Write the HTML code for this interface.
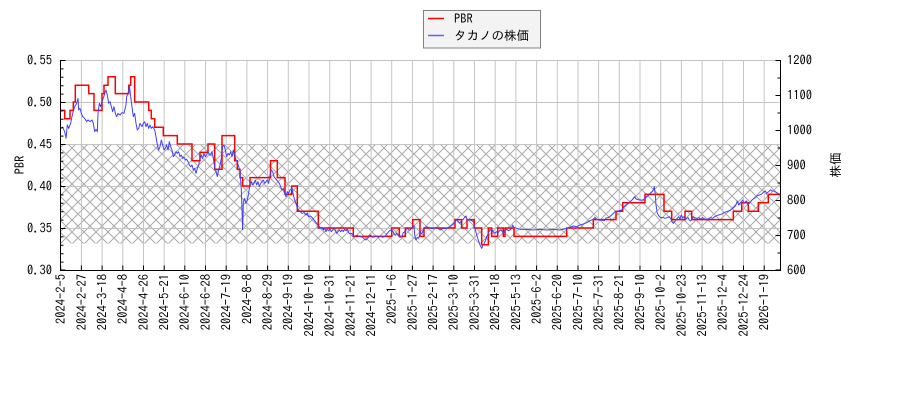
<!DOCTYPE html>
<html>
<head>
<meta charset="utf-8">
<style>
html,body{margin:0;padding:0;background:#fff;}
svg{display:block;}
text{font-family:"IPAGothic","DejaVu Sans","Noto Sans CJK JP",sans-serif;font-size:12.5px;fill:#000;}
</style>
</head>
<body>
<svg width="900" height="400" viewBox="0 0 900 400" xmlns="http://www.w3.org/2000/svg">
<defs>
<pattern id="hx" width="12" height="12" patternUnits="userSpaceOnUse" x="0" y="4">
<path d="M0,0 L12,12 M0,12 L12,0" stroke="#a8a8a8" stroke-width="1" fill="none"/>
</pattern>
</defs>
<rect x="0" y="0" width="900" height="400" fill="#fff"/>

<!-- hatch band -->
<rect x="60.5" y="144" width="720" height="99.5" fill="url(#hx)"/>

<!-- grid -->
<g stroke="#c4c4c4" stroke-width="1" fill="none">
<path d="M60.5,60.5H780.5 M60.5,102.5H780.5 M60.5,144.5H780.5 M60.5,186.5H780.5 M60.5,228.5H780.5"/>
<path d="M81.4,60V270 M102.1,60V270 M122.8,60V270 M143.5,60V270 M164.2,60V270 M184.8,60V270 M205.5,60V270 M226.2,60V270 M246.9,60V270 M267.6,60V270 M288.3,60V270 M309,60V270 M329.7,60V270 M350.4,60V270 M371.1,60V270 M391.7,60V270 M412.4,60V270 M433.1,60V270 M453.8,60V270 M474.5,60V270 M495.2,60V270 M515.9,60V270 M536.6,60V270 M557.3,60V270 M578,60V270 M598.6,60V270 M619.3,60V270 M640,60V270 M660.7,60V270 M681.4,60V270 M702.1,60V270 M722.8,60V270 M743.5,60V270 M764.2,60V270"/>
</g>

<!-- PBR red step line -->
<path fill="none" stroke="#ff0000" stroke-width="1.5" d="M60.7,110.4 H64.7 V118.8 H70 V110.4 H73.3 V102 H75.3 V85.2 H88.7 V93.6 H94 V110.4 H102 V93.6 H104 V85.2 H108 V76.8 H115.3 V93.6 H128.7 V85.2 H130.7 V76.8 H134.7 V102 H148.7 V110.4 H151.3 V118.8 H154.7 V127.2 H163.3 V135.6 H177.3 V144 H192 V160.8 H200 V152.4 H208 V144 H214.7 V169.2 H222 V135.6 H234.7 V160.8 H237.3 V169.2 H240 V177.6 H242.7 V186 H250 V177.6 H270.5 V160.8 H277.3 V177.6 H285 V194.4 H291.7 V186 H297.3 V211.2 H318.3 V228 H353.3 V236.4 H391.7 V228 H399.3 V236.4 H405.3 V228 H412.7 V219.6 H420 V236.4 H424 V228 H455 V219.6 H461.7 V228 H467 V219.6 H474.3 V228 H481.7 V244.8 H488.3 V228 H491.7 V236.4 H497.7 V228 H503.3 V236.4 H505 V228 H514 V236.4 H566.7 V228 H593.3 V219.6 H616 V211.2 H622.7 V202.8 H645 V194.4 H664 V211.2 H671.7 V219.6 H685 V211.2 H691.7 V219.6 H733.3 V211.2 H741.7 V202.8 H748.3 V211.2 H758.3 V202.8 H768.3 V194.4 H780"/>

<!-- Stock price blue line -->
<g fill="none" stroke="#4040ff" stroke-width="1" stroke-linejoin="round">
<g transform="translate(58,70) scale(0.33333)">
<polyline vector-effect="non-scaling-stroke" points="8,175 14,172 20,185 24,205 28,165 32,175 38,160 44,130 50,110 56,100 60,85 62,120 66,115 70,130 74,140 80,145 86,155 90,150 96,155 102,150 106,160 110,185 114,178 118,185 120,130 124,100 128,110 132,95 138,78 144,60 148,75 152,100 156,95 160,110 164,125 168,110 172,130 176,140 180,130 186,135 192,128 198,130 204,105 206,80 210,70 212,60 214,45 218,80 222,110 226,140 230,130 234,160 238,180 242,175 246,160 252,170 256,160 260,155 264,170 268,160 272,175 276,165 280,175 284,170 290,180 294,200 298,225 302,240 306,230 310,210 314,225 318,240 322,235 326,225 330,240 334,215 338,230 342,240 346,260 350,255 354,245 358,250 362,245 366,260 370,255 374,265 378,262 382,270 386,268 390,275 394,285 398,290 402,285 406,300 410,295 414,310 418,295 422,285 426,265 430,255 434,265 438,250 442,260 446,255 450,245 454,255 458,255 462,245 466,265 470,290 474,305 478,320 482,300 486,285 490,265 494,230 498,225 502,240 506,260 510,250 514,255 518,245 522,260 526,240 530,255 534,270 538,275 542,290 546,300 550,360 552,420 554,480"/>
</g>
<g transform="translate(240,150) scale(0.33333)">
<polyline vector-effect="non-scaling-stroke" points="8,240 10,155 14,145 18,160 22,150 26,130 30,100 34,95 38,105 42,100 46,90 50,105 54,95 58,110 62,100 66,95 70,90 74,100 78,95 82,90 86,100 90,75 94,60 98,65 102,80 106,85 110,90 114,95 118,100 122,110 126,120 130,115 134,130 138,140 142,125 146,130 150,120 156,115 160,135 164,150 168,160 172,175 176,180 180,185 186,190 192,188 198,195 202,190 206,200 210,198 214,200 218,205 222,210 226,215 230,220 234,225 238,230 242,235 246,232 250,240 254,235 258,245 262,238 266,242 270,236 274,245 278,240 282,235 286,240 290,250 294,245 298,240 302,245 306,240 310,245 314,238 318,242 322,236 326,248 330,252 334,250 338,255 342,258 346,258 350,256 356,258 362,260 368,262 374,268 378,270 382,265 386,262 390,255 394,258 398,262 404,260 410,258 416,262 422,258 428,262 434,260 440,252 446,245 452,240 458,242 462,252 466,256 470,250 474,256 480,262 486,258 490,248 494,245 498,238 502,235 506,240 510,240 514,236 518,230 522,228 524,255 528,270 532,262 536,265 540,250"/>
</g>
<g transform="translate(420,180) scale(0.33333)">
<polyline vector-effect="non-scaling-stroke" points="0,155 5,162 10,150 15,145 20,140 25,142 30,145 40,145 50,142 60,150 70,145 80,145 90,140 100,132 105,125 110,118 115,125 120,130 125,120 130,118 135,110 138,108 142,122 146,118 150,120 155,122 160,125 165,145 170,165 175,180 180,195 185,205 190,195 195,185 200,170 205,160 210,150 215,148 220,155 225,160 230,155 235,158 240,150 245,152 250,160 255,150 260,148 265,152 270,150 275,145 278,135 282,142 290,145 300,148 320,148 340,150 360,148 380,150 400,148 420,150 440,145 450,142 460,138 470,140 480,135 490,132 500,128 510,122 520,118 525,112 530,118 540,120 555,122"/>
</g>
<g transform="translate(600,175) scale(0.33333)">
<polyline vector-effect="non-scaling-stroke" points="15,130 25,128 35,120 45,110 55,108 65,105 72,95 80,88 88,82 96,75 104,65 108,72 118,75 130,75 135,68 140,65 145,62 150,55 156,50 160,45 163,35 166,60 168,90 172,115 176,122 182,128 190,128 196,130 202,128 208,125 212,130 216,140 220,145 224,140 228,135 232,130 236,125 240,132 244,120 248,128 252,125 256,135 260,130 264,128 268,135 272,138 276,132 280,125 284,128 290,130 296,128 302,132 308,128 314,132 320,135 326,130 332,128 338,130 344,125 350,122 356,120 362,118 368,116 374,112 380,110 386,108 392,105 398,100 404,95 408,90 412,78 416,90 420,85 424,80 428,75 432,85 436,80 440,78 444,90 448,85 452,80 456,75 460,72 466,68 472,62 478,60 484,58 490,52 496,48 500,55 506,50 512,44 516,48 522,48 528,52 534,55 540,58"/>
</g>
</g>

<!-- spines -->
<g stroke="#000" stroke-width="1" fill="none">
<path d="M60.5,60V271 M780.5,60V271 M60,270.5H781"/>
</g>

<!-- left ticks (inward) -->
<g stroke="#000" stroke-width="1">
<path d="M60.5,60.5h5 M60.5,102.5h5 M60.5,144.5h5 M60.5,186.5h5 M60.5,228.5h5 M60.5,270h5"/>
<path d="M60.5,68.9h3 M60.5,77.3h3 M60.5,85.7h3 M60.5,94.1h3 M60.5,110.9h3 M60.5,119.3h3 M60.5,127.7h3 M60.5,136.1h3 M60.5,152.9h3 M60.5,161.3h3 M60.5,169.7h3 M60.5,178.1h3 M60.5,194.9h3 M60.5,203.3h3 M60.5,211.7h3 M60.5,220.1h3 M60.5,236.9h3 M60.5,245.3h3 M60.5,253.7h3 M60.5,262.1h3"/>
<!-- right ticks -->
<path d="M780.5,60.5h-5 M780.5,95.5h-5 M780.5,130.5h-5 M780.5,165.5h-5 M780.5,200.5h-5 M780.5,235.5h-5 M780.5,270h-5"/>
<path d="M780.5,78h-3 M780.5,113h-3 M780.5,148h-3 M780.5,183h-3 M780.5,218h-3 M780.5,253h-3"/>
<!-- bottom ticks -->
<path d="M60.7,270.5v-5 M81.4,270.5v-5 M102.1,270.5v-5 M122.8,270.5v-5 M143.5,270.5v-5 M164.2,270.5v-5 M184.8,270.5v-5 M205.5,270.5v-5 M226.2,270.5v-5 M246.9,270.5v-5 M267.6,270.5v-5 M288.3,270.5v-5 M309,270.5v-5 M329.7,270.5v-5 M350.4,270.5v-5 M371.1,270.5v-5 M391.7,270.5v-5 M412.4,270.5v-5 M433.1,270.5v-5 M453.8,270.5v-5 M474.5,270.5v-5 M495.2,270.5v-5 M515.9,270.5v-5 M536.6,270.5v-5 M557.3,270.5v-5 M578,270.5v-5 M598.6,270.5v-5 M619.3,270.5v-5 M640,270.5v-5 M660.7,270.5v-5 M681.4,270.5v-5 M702.1,270.5v-5 M722.8,270.5v-5 M743.5,270.5v-5 M764.2,270.5v-5"/>
</g>

<!-- left tick labels -->
<g text-anchor="end">
<text x="52" y="64.5">0.55</text>
<text x="52" y="106.5">0.50</text>
<text x="52" y="148.5">0.45</text>
<text x="52" y="190.5">0.40</text>
<text x="52" y="232.5">0.35</text>
<text x="52" y="274.5">0.30</text>
</g>
<!-- right tick labels -->
<g text-anchor="start">
<text x="787" y="64.5">1200</text>
<text x="787" y="99.5">1100</text>
<text x="787" y="134.5">1000</text>
<text x="787" y="169.5">900</text>
<text x="787" y="204.5">800</text>
<text x="787" y="239.5">700</text>
<text x="787" y="274.5">600</text>
</g>

<!-- axis labels -->
<text transform="translate(24,165) rotate(-90)" text-anchor="middle">PBR</text>
<text transform="translate(840,165) rotate(-90)" text-anchor="middle">株価</text>

<!-- x tick labels -->
<g text-anchor="end">
<text transform="translate(60.7,274) rotate(-90)" dy="0.35em">2024-2-5</text>
<text transform="translate(81.4,274) rotate(-90)" dy="0.35em">2024-2-27</text>
<text transform="translate(102.1,274) rotate(-90)" dy="0.35em">2024-3-18</text>
<text transform="translate(122.8,274) rotate(-90)" dy="0.35em">2024-4-8</text>
<text transform="translate(143.5,274) rotate(-90)" dy="0.35em">2024-4-26</text>
<text transform="translate(164.2,274) rotate(-90)" dy="0.35em">2024-5-21</text>
<text transform="translate(184.8,274) rotate(-90)" dy="0.35em">2024-6-10</text>
<text transform="translate(205.5,274) rotate(-90)" dy="0.35em">2024-6-28</text>
<text transform="translate(226.2,274) rotate(-90)" dy="0.35em">2024-7-19</text>
<text transform="translate(246.9,274) rotate(-90)" dy="0.35em">2024-8-8</text>
<text transform="translate(267.6,274) rotate(-90)" dy="0.35em">2024-8-29</text>
<text transform="translate(288.3,274) rotate(-90)" dy="0.35em">2024-9-19</text>
<text transform="translate(309,274) rotate(-90)" dy="0.35em">2024-10-10</text>
<text transform="translate(329.7,274) rotate(-90)" dy="0.35em">2024-10-31</text>
<text transform="translate(350.4,274) rotate(-90)" dy="0.35em">2024-11-21</text>
<text transform="translate(371.1,274) rotate(-90)" dy="0.35em">2024-12-11</text>
<text transform="translate(391.7,274) rotate(-90)" dy="0.35em">2025-1-6</text>
<text transform="translate(412.4,274) rotate(-90)" dy="0.35em">2025-1-27</text>
<text transform="translate(433.1,274) rotate(-90)" dy="0.35em">2025-2-17</text>
<text transform="translate(453.8,274) rotate(-90)" dy="0.35em">2025-3-10</text>
<text transform="translate(474.5,274) rotate(-90)" dy="0.35em">2025-3-31</text>
<text transform="translate(495.2,274) rotate(-90)" dy="0.35em">2025-4-18</text>
<text transform="translate(515.9,274) rotate(-90)" dy="0.35em">2025-5-13</text>
<text transform="translate(536.6,274) rotate(-90)" dy="0.35em">2025-6-2</text>
<text transform="translate(557.3,274) rotate(-90)" dy="0.35em">2025-6-20</text>
<text transform="translate(578,274) rotate(-90)" dy="0.35em">2025-7-10</text>
<text transform="translate(598.6,274) rotate(-90)" dy="0.35em">2025-7-31</text>
<text transform="translate(619.3,274) rotate(-90)" dy="0.35em">2025-8-21</text>
<text transform="translate(640,274) rotate(-90)" dy="0.35em">2025-9-10</text>
<text transform="translate(660.7,274) rotate(-90)" dy="0.35em">2025-10-2</text>
<text transform="translate(681.4,274) rotate(-90)" dy="0.35em">2025-10-23</text>
<text transform="translate(702.1,274) rotate(-90)" dy="0.35em">2025-11-13</text>
<text transform="translate(722.8,274) rotate(-90)" dy="0.35em">2025-12-4</text>
<text transform="translate(743.5,274) rotate(-90)" dy="0.35em">2025-12-24</text>
<text transform="translate(764.2,274) rotate(-90)" dy="0.35em">2026-1-19</text>
</g>

<!-- legend -->
<rect x="423.5" y="10.5" width="117" height="37.5" fill="#f3f3f3" stroke="#808080" stroke-width="1"/>
<path d="M428,18.5H444" stroke="#ff0000" stroke-width="1.5"/>
<path d="M428,35.5H444" stroke="#6060ff" stroke-width="1.5"/>
<text x="454" y="22.8">PBR</text>
<text x="454" y="39.8">タカノの株価</text>
</svg>
</body>
</html>
